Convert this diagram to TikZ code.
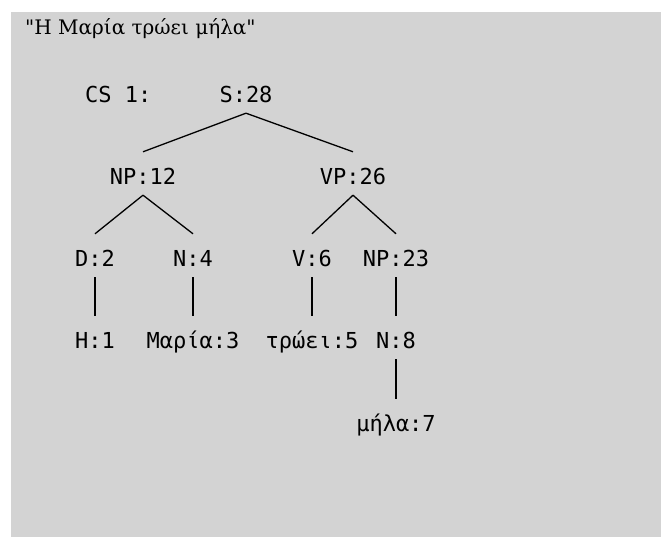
\documentclass[tikz,border=0pt]{standalone}
\usepackage{fontspec}
\newfontfamily\labelfont{DejaVu Sans Mono}
\newfontfamily\titlefont{DejaVu Serif}
\definecolor{panelgray}{RGB}{211,211,211}
\begin{document}
\begin{tikzpicture}[x=1pt,y=1pt,
  lbl/.style={font=\labelfont\fontsize{22}{22}\selectfont, anchor=base,
    inner sep=0pt, text height=16pt, text depth=0pt},
  branch/.style={line width=1.3pt, black}]
% canvas and grey panel
\useasboundingbox (0,0) rectangle (661,537);
\fill[white] (0,0) rectangle (661,537);
\fill[panelgray] (11,0) rectangle (661,525);

% sentence
\node[anchor=base west, inner sep=0pt, font=\titlefont\fontsize{20}{20}\selectfont]
  (title) at (25,502) {"Η Μαρία τρώει μήλα"};

% tree labels
\node[lbl, anchor=base west] (cs) at (85,434) {CS 1:};
\node[lbl] (s)    at (246,434) {S:28};
\node[lbl] (np1)  at (143,352) {NP:12};
\node[lbl] (vp)   at (353,352) {VP:26};
\node[lbl] (d)    at (95,270)  {D:2};
\node[lbl] (n1)   at (193,270) {N:4};
\node[lbl] (v)    at (312,270) {V:6};
\node[lbl] (np2)  at (396,270) {NP:23};
\node[lbl] (h)    at (95,188)  {Η:1};
\node[lbl] (maria) at (193,188) {Μαρία:3};
\node[lbl] (trwei) at (312,188) {τρώει:5};
\node[lbl] (n2)   at (396,188) {N:8};
\node[lbl] (mila) at (396,105) {μήλα:7};

% branches
\foreach \p/\c in {s/np1, s/vp, np1/d, np1/n1, vp/v, vp/np2,
                   d/h, n1/maria, v/trwei, np2/n2, n2/mila}
  \draw[branch] ([yshift=-10pt]\p.south) -- ([yshift=17pt]\c.north);
\end{tikzpicture}
\end{document}
